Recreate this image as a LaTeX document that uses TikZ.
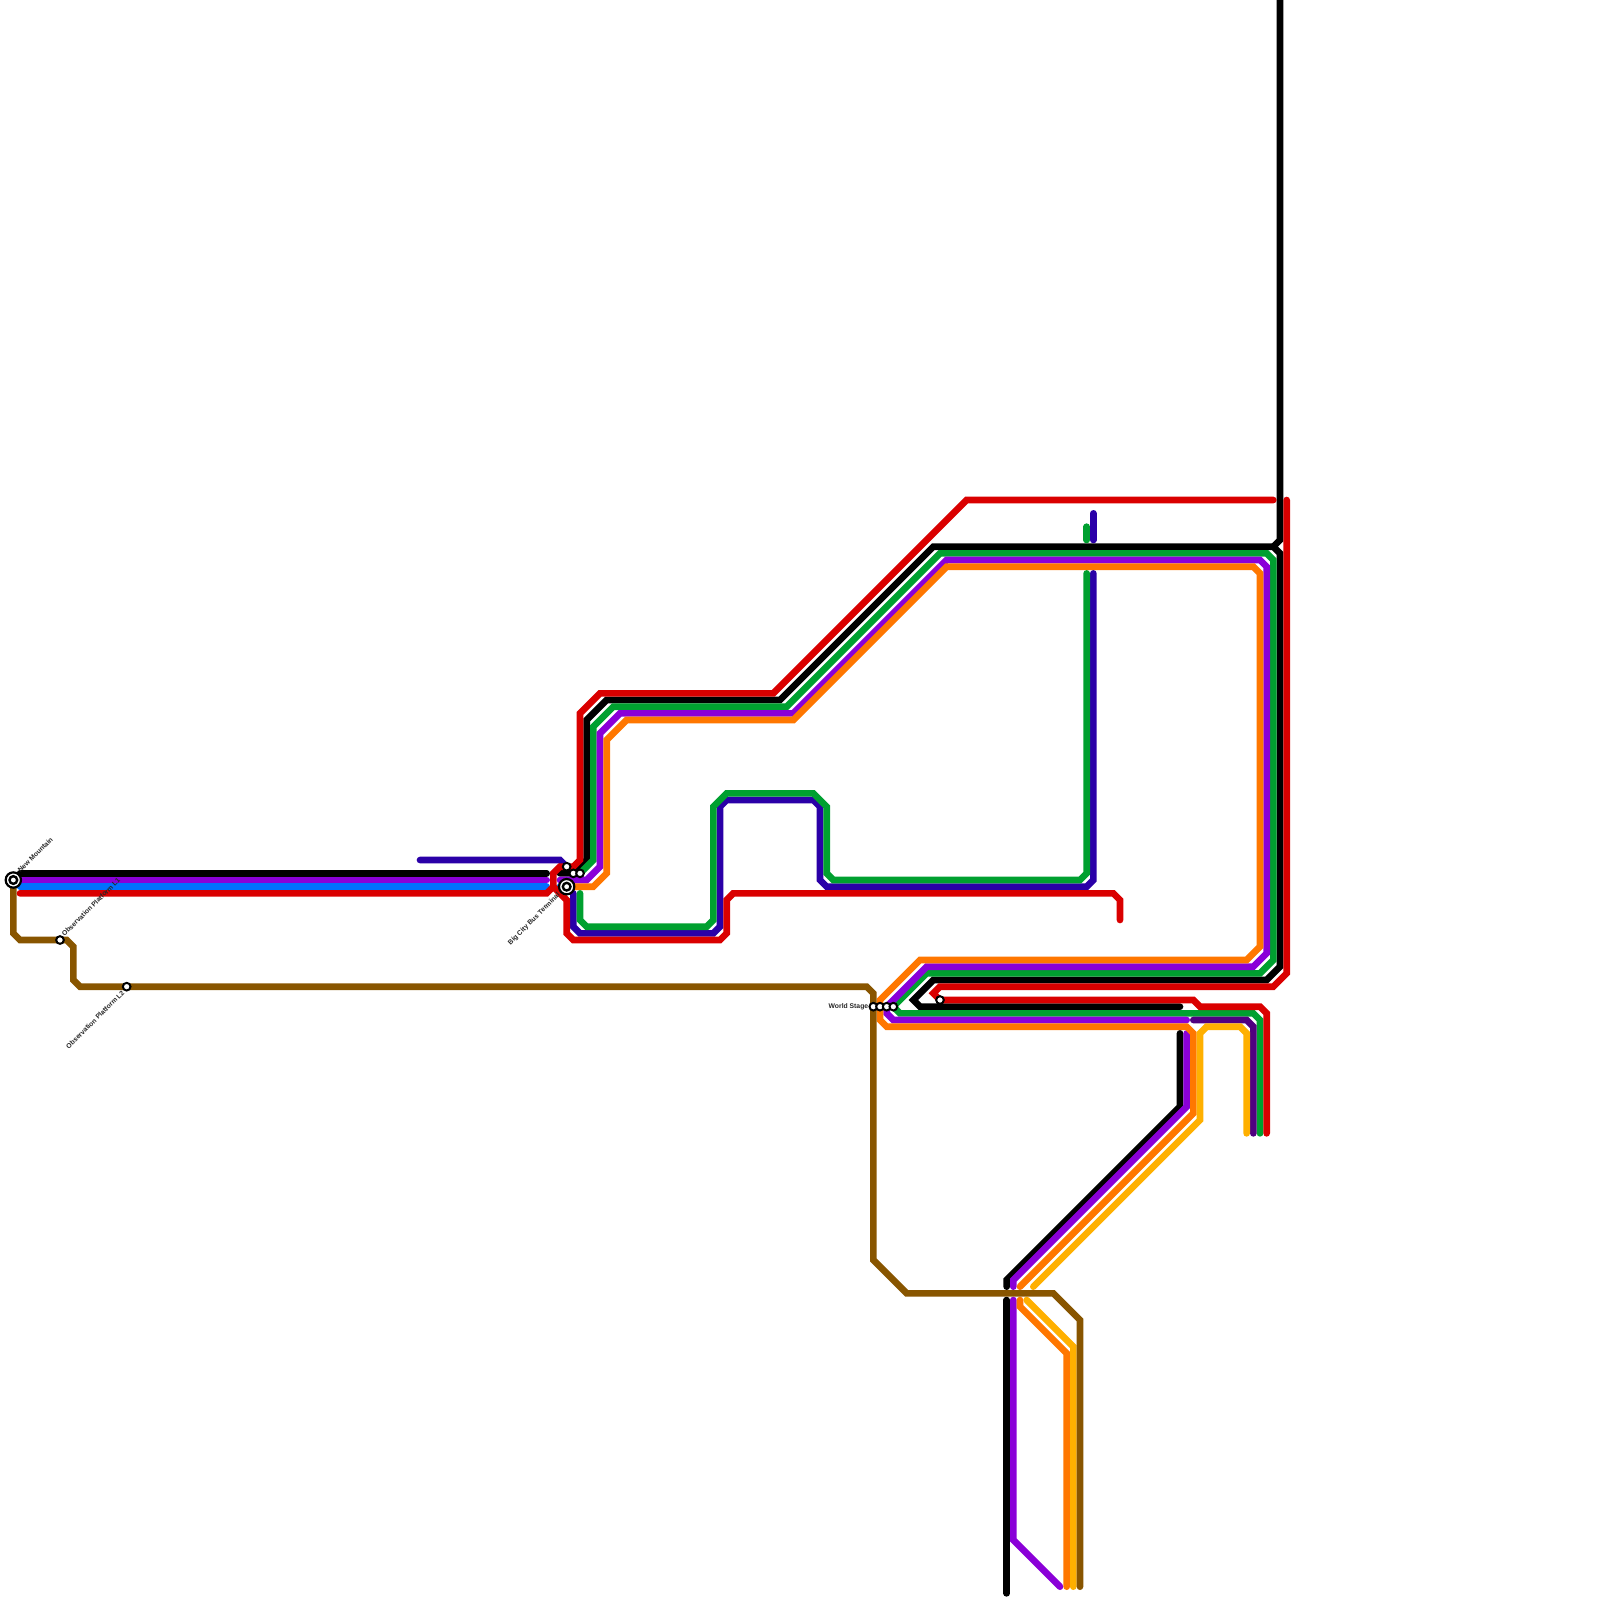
\documentclass[tikz,border=0pt]{standalone}
\usepackage{fontspec}
\setmainfont{Liberation Sans}
\definecolor{cblack}{HTML}{000000}
\definecolor{cpurple}{HTML}{8A00D8}
\definecolor{cblue}{HTML}{0070FF}
\definecolor{cred}{HTML}{DA0000}
\definecolor{cgreen}{HTML}{00A030}
\definecolor{cindigo}{HTML}{2A00A8}
\definecolor{corange}{HTML}{FF7700}
\definecolor{cyellow}{HTML}{FFB000}
\definecolor{cbrown}{HTML}{885500}
\definecolor{cdark}{HTML}{500080}
\tikzset{
  ln/.style={line width=1mm,line cap=round,line join=miter,miter limit=4},
  stn/.style={circle,draw=black,fill=white,line width=0.3mm,minimum size=1.15mm,inner sep=0pt},
  stnbig/.style={circle,draw=black,fill=white,line width=0.33mm,minimum size=2.3mm,inner sep=0pt},
  stnin/.style={circle,draw=black,fill=white,line width=0.36mm,minimum size=1.15mm,inner sep=0pt},
  lbl/.style={font=\fontsize{2.9}{3}\selectfont\bfseries,text=black!85,inner sep=0pt},
}
\begin{document}
\begin{tikzpicture}[x=0.1cm,y=-0.1cm]
\useasboundingbox (0,0) rectangle (240,240);
% black
\draw[ln,cblack] (3,131) -- (82,131);
\draw[ln,cblack] (84,131) -- (86,131) -- (88,129) -- (88,108) -- (91,105) -- (117,105) -- (140,82) -- (191,82) -- (192,83) -- (192,145) -- (190,147) -- (140,147) -- (137,150) -- (138,151) -- (177,151);
\draw[ln,cblack] (191,82) -- (192,81) -- (192,-1);
\draw[ln,cblack] (177,155) -- (177,166) -- (151,192) -- (151,193);
\draw[ln,cblack] (151,195) -- (151,239);
% indigo
\draw[ln,cindigo] (63,129) -- (84,129) -- (85,130);
\draw[ln,cindigo] (86,134) -- (86,139) -- (87,140) -- (107,140) -- (108,139) -- (108,121) -- (109,120) -- (122,120) -- (123,121) -- (123,132) -- (124,133) -- (163,133) -- (164,132) -- (164,86);
\draw[ln,cindigo] (164,77) -- (164,81);
% green
\draw[ln,cgreen] (87,134) -- (87,138) -- (88,139) -- (106,139) -- (107,138) -- (107,121) -- (109,119) -- (122,119) -- (124,121) -- (124,131) -- (125,132) -- (162,132) -- (163,131) -- (163,86);
\draw[ln,cgreen] (163,79) -- (163,81);
\draw[ln,cgreen] (87,131) -- (89,129) -- (89,109) -- (92,106) -- (118,106) -- (141,83) -- (190,83) -- (191,84) -- (191,144) -- (189,146) -- (139,146) -- (134,151) -- (135,152) -- (188,152) -- (189,153) -- (189,170);
% purple
\draw[ln,cpurple] (3,132) -- (82,132);
\draw[ln,cpurple] (84,132) -- (88,132) -- (90,130) -- (90,110) -- (93,107) -- (119,107) -- (142,84) -- (189,84) -- (190,85) -- (190,143) -- (188,145) -- (139,145) -- (133,151) -- (133,152) -- (134,153) -- (178,153);
\draw[ln,cpurple] (178,155) -- (178,166) -- (152,192) -- (152,193);
\draw[ln,cpurple] (152,195) -- (152,231) -- (159,238);
\draw[ln,cdark] (179,153) -- (187,153) -- (188,154) -- (188,170);
% blue
\draw[ln,cblue] (3,133) -- (82,133);
\draw[ln,cblue] (84,133) -- (85,133);
% orange
\draw[ln,corange] (86,133) -- (89,133) -- (91,131) -- (91,111) -- (94,108) -- (119,108) -- (142,85) -- (188,85) -- (189,86) -- (189,142) -- (187,144) -- (138,144) -- (132,150) -- (132,153) -- (133,154) -- (178,154) -- (179,155) -- (179,167) -- (153,193);
\draw[ln,corange] (153,195) -- (153,196) -- (160,203) -- (160,238);
% yellow
\draw[ln,cyellow] (187,170) -- (187,155) -- (186,154) -- (181,154) -- (180,155) -- (180,168) -- (155,193);
\draw[ln,cyellow] (154,195) -- (161,202) -- (161,238);
% red
\draw[ln,cred] (3,134) -- (82,134) -- (83,133) -- (83,131) -- (84,130) -- (86,130) -- (87,129) -- (87,107) -- (90,104) -- (116,104) -- (145,75) -- (191,75);
\draw[ln,cred] (83,133) -- (85,135) -- (85,140) -- (86,141) -- (108,141) -- (109,140) -- (109,135) -- (110,134) -- (167,134) -- (168,135) -- (168,138);
\draw[ln,cred] (193,75) -- (193,146) -- (191,148) -- (141,148) -- (140,149) -- (141,150) -- (179,150) -- (180,151) -- (189,151) -- (190,152) -- (190,170);
% brown
\draw[ln,cbrown] (2,132) -- (2,140) -- (3,141) -- (10,141) -- (11,142) -- (11,147) -- (12,148) -- (130,148) -- (131,149) -- (131,189) -- (136,194) -- (158,194) -- (162,198) -- (162,238);
% stations
\node[stnbig] (nm) at (2,132) {};
\node[stnin] (nmi) at (2,132) {};
\node[stnbig] (bc) at (85,133) {};
\node[stnin] (bci) at (85,133) {};
\node[stn] (op1) at (9,141) {};
\node[stn] (op2) at (19,148) {};
\node[stn] (bc1) at (85,130) {};
\node[stn] (bc2) at (86,131) {};
\node[stn] (bc3) at (87,131) {};
\node[stn] (ws1) at (131,151) {};
\node[stn] (ws2) at (132,151) {};
\node[stn] (ws3) at (133,151) {};
\node[stn] (ws4) at (134,151) {};
\node[stn] (ws5) at (141,150) {};
% labels
\node[lbl,rotate=45,anchor=west] (lnm) at (2.8,130.7) {New Mountain};
\node[lbl,rotate=45,anchor=west] (lop1) at (9.4,140.3) {Observation Platform L1};
\node[lbl,rotate=45,anchor=east] (lop2) at (18.5,148.7) {Observation Platform L2};
\node[lbl,rotate=45,anchor=east] (lbc) at (83.9,134.1) {Big City Bus Terminal};
\node[lbl,anchor=east] (lws) at (130.3,151) {World Stage};
\end{tikzpicture}
\end{document}
